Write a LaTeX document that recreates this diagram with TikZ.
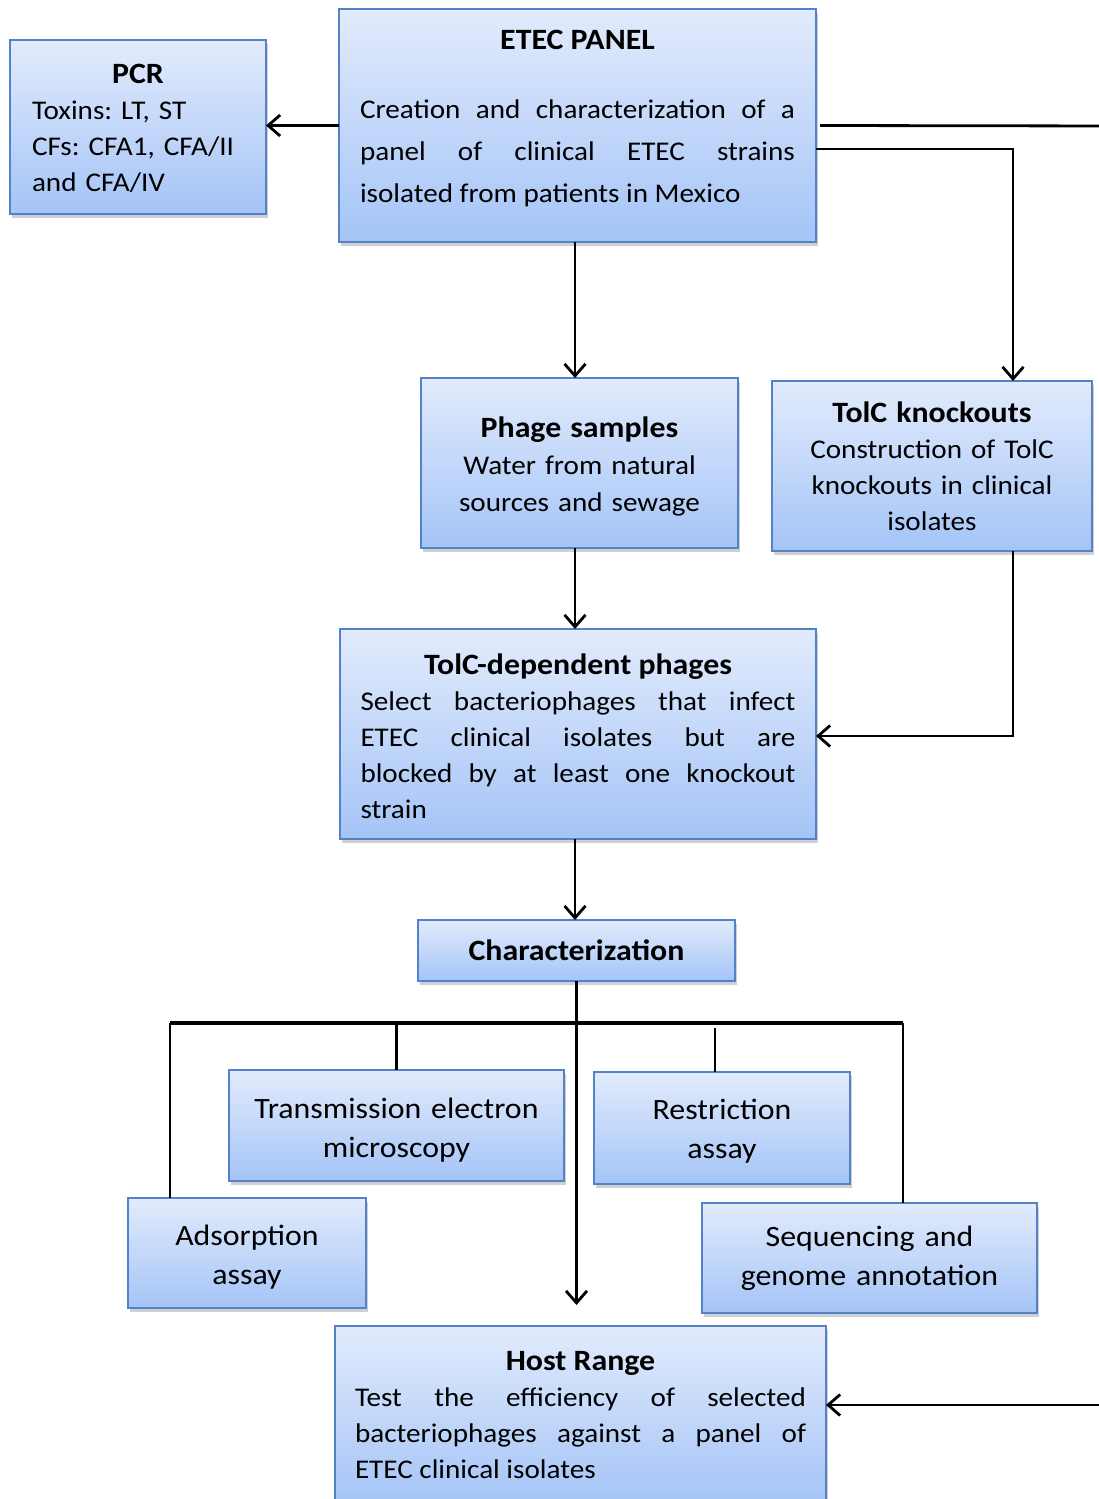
\documentclass[tikz,border=0pt]{standalone}
\usepackage{fontspec}
\setmainfont{Carlito}[FakeStretch=1.08]
\usetikzlibrary{arrows.meta,shadows}
\definecolor{boxtop}{RGB}{226,235,252}
\definecolor{boxbot}{RGB}{164,196,247}
\definecolor{boxline}{RGB}{84,130,200}
\hyphenpenalty=10000
\frenchspacing
\tikzset{
  box/.style={draw=boxline, line width=1.8pt, top color=boxtop, bottom color=boxbot,
    drop shadow={shadow xshift=2pt, shadow yshift=-4pt, opacity=0.3, fill=black!60},
    inner sep=0pt, outer sep=0pt, execute at begin node={\parindent=0pt\frenchspacing}},
  conn/.style={line width=2.8pt},
  thick bus/.style={line width=3.6pt},
  arr/.style={conn, -{Straight Barb[length=12pt,width=21pt]}},
  bodyfont/.style={font=\fontsize{27}{36}\selectfont},
  bigfont/.style={font=\fontsize{29.5}{39}\selectfont},
}
\newcommand{\ttl}[1]{{\bfseries\fontsize{29.5}{36}\selectfont #1}}
\newcommand{\lift}[1]{\rule{0pt}{#1pt}}
\newcommand{\drop}[1]{\rule[-#1pt]{0pt}{#1pt}}
\begin{document}
\begin{tikzpicture}[x=1pt,y=-1pt]
\clip (0,0) rectangle (1099,1499);
\fill[white] (0,0) rectangle (1099,1499);

% nodes
\node[box, bodyfont, minimum width=256, minimum height=174, text width=212, align=left] (pcr) at (138,127)
  {{\centering\lift{23}\ttl{PCR}\par}Toxins: LT, ST\\CFs: CFA1, CFA/II\\and CFA/IV};

\node[box, bodyfont, minimum width=477, minimum height=233, text width=435, align=justify] (etec) at (577.5,125.5)
  {{\centering\ttl{ETEC PANEL}\par}\vspace{27pt}\fontsize{27}{42}\selectfont
   Creation and characterization of a\linebreak panel of clinical ETEC strains\linebreak isolated from patients in Mexico\drop{18}\par};

\node[box, font=\fontsize{27}{37}\selectfont, minimum width=317, minimum height=170, text width=300, align=center] (phage) at (579.5,463)
  {\lift{27}\ttl{Phage samples}\\Water from natural\\sources and sewage};

\node[box, bodyfont, minimum width=320, minimum height=170, text width=300, align=center] (tolk) at (932,466)
  {\ttl{TolC knockouts}\\Construction of TolC\\knockouts in clinical\\isolates};

\node[box, bodyfont, minimum width=476, minimum height=210, text width=435, align=justify] (tdep) at (578,734)
  {{\centering\lift{25}\ttl{TolC-dependent phages}\par}Select bacteriophages that infect\linebreak ETEC clinical isolates but are\linebreak blocked by at least one knockout\linebreak strain};

\node[box, minimum width=317, minimum height=61] (char) at (576.5,950.5) {\ttl{Characterization}};

\node[box, bigfont, minimum width=335, minimum height=111, text width=320, align=center] (tem) at (396.5,1125.5)
  {\lift{29}Transmission electron\\microscopy};

\node[box, bigfont, minimum width=256, minimum height=112, text width=240, align=center] (restr) at (722,1128)
  {\lift{27}Restriction\\assay};

\node[box, bigfont, minimum width=238, minimum height=110, text width=220, align=center] (ads) at (247,1253)
  {\lift{29}Adsorption\\assay};

\node[box, bigfont, minimum width=335, minimum height=110, text width=320, align=center] (seq) at (869.5,1258)
  {Sequencing and\\genome annotation};

\node[box, bodyfont, minimum width=491, minimum height=178, text width=451, align=justify] (host) at (580.5,1415)
  {{\centering\ttl{Host Range}\par}Test the efficiency of selected\linebreak bacteriophages against a panel of\linebreak ETEC clinical isolates};

% helper coordinates
\coordinate (c1) at (575,0);
\coordinate (c2) at (1013,0);
\coordinate (farx) at (1120,126);
\coordinate (bus) at (576.5,1023);
\coordinate (busL) at (170,1023);
\coordinate (busR) at (903,1023);
\coordinate (rx) at (715,1028);
\coordinate (hrtip) at (576.5,1305);

% connectors
\draw[arr] (etec.west) -- (etec.west -| pcr.east);
\draw[arr] (etec.south -| c1) -- (phage.north -| c1);
\draw[arr] ([yshift=-23.5pt]etec.east) -| (tolk.north -| c2);
\draw[conn] ([xshift=4pt]etec.east) -- (farx);
\draw[arr] (farx) |- ([yshift=10pt]host.east);
\draw[arr] (phage.south -| c1) -- (tdep.north -| c1);
\draw[arr] (tolk.south -| c2) |- ([yshift=-2pt]tdep.east);
\draw[arr] (tdep.south -| c1) -- (char.north -| c1);

\draw[thick bus] (char.south) -- (bus);
\draw[thick bus] (busL) -- (busR);
\draw[conn] (busL) -- (busL |- ads.north);
\draw[conn] (tem.north |- bus) -- (tem.north);
\draw[conn] (rx) -- (rx |- restr.north);
\draw[conn] (busR) -- (busR |- seq.north);
\draw[arr] (bus) -- (hrtip);
\end{tikzpicture}
\end{document}
